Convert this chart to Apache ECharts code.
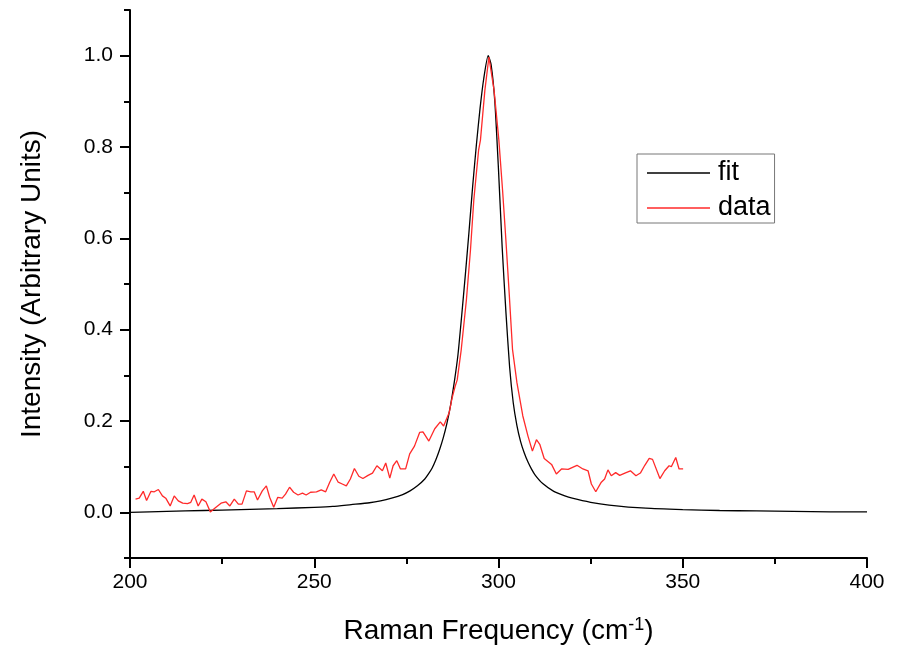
<!DOCTYPE html>
<html>
<head>
<meta charset="utf-8">
<script src="https://cdn.jsdelivr.net/npm/echarts@6/dist/echarts.min.js"></script>
<style>
  html, body { margin: 0; padding: 0; background: #fff; }
  #chart { width: 902px; height: 650px; }
</style>
</head>
<body>
<div id="chart"></div>
<script>
// fit curve
var fitX = [200, 210, 220, 230, 240, 250, 255, 260, 265, 268, 271, 274, 276, 278, 280, 281, 282, 283, 284, 285, 286, 287, 288, 289,
            290, 291, 292, 293, 294, 295, 296, 297.2, 298, 299, 300, 301, 302, 303, 304, 305, 306, 307, 308, 309, 310,
            312, 315, 318, 320, 325, 330, 340, 350, 360, 370, 380, 390, 400];
var fitY = [0.000, 0.002, 0.004, 0.006, 0.008, 0.011, 0.013, 0.017, 0.021, 0.025, 0.031, 0.039, 0.047, 0.058, 0.073, 0.084, 0.097, 0.115, 0.137, 0.163, 0.195, 0.235, 0.285, 0.345,
            0.430, 0.520, 0.615, 0.715, 0.805, 0.885, 0.950, 1.000, 0.980, 0.900, 0.750, 0.580, 0.440, 0.320, 0.240, 0.190, 0.155, 0.130, 0.110, 0.094, 0.081,
            0.063, 0.046, 0.036, 0.031, 0.022, 0.016, 0.009, 0.006, 0.004, 0.003, 0.002, 0.001, 0.001];

// measured data
var dataX = [201.5, 202.5, 203.6, 204.5, 205.7, 206.6, 207.7, 208.8, 209.7, 210.9, 212.0, 213.1, 214.3, 215.6, 216.5, 217.4, 218.5, 219.5, 220.6, 221.8,
             223.0, 224.7, 226.0, 227.1, 228.3, 229.4, 230.4, 231.6, 232.8, 233.7, 234.6, 235.9, 237.0, 237.9, 239.0, 240.1, 241.3, 242.2, 243.3, 244.4,
             245.6, 246.8, 247.8, 249.0, 250.6, 251.9, 253.1, 254.2, 255.3, 256.5, 257.6, 258.7, 259.8, 260.9, 262.1, 263.2, 264.6, 265.8, 267.0, 268.5,
             269.4, 270.5, 271.4, 272.4, 273.4, 274.8, 275.9, 277.2, 278.6, 279.5, 281.1, 282.7, 284.2, 285.1, 286.6, 287.4, 288.2, 288.8, 289.9, 291.3,
             292.4, 293.3, 294.6, 295.1, 296.3, 297.4, 298.8, 300.1, 301.1, 302.0, 302.9, 303.8, 305.0, 306.6, 308.0, 309.2, 310.3, 311.2, 312.4, 314.4,
             315.7, 317.1, 318.9, 321.3, 322.9, 324.3, 325.2, 326.4, 327.9, 328.8, 329.7, 330.6, 331.8, 332.9, 334.3, 335.8, 337.3, 338.5, 339.7, 340.9,
             341.8, 343.8, 345.1, 346.3, 346.9, 348.1, 349.0, 350.1];
var dataY = [0.029, 0.031, 0.046, 0.026, 0.046, 0.045, 0.050, 0.036, 0.031, 0.014, 0.036, 0.025, 0.020, 0.019, 0.022, 0.038, 0.014, 0.029, 0.023, 0.001,
             0.009, 0.020, 0.023, 0.014, 0.029, 0.018, 0.018, 0.047, 0.045, 0.045, 0.027, 0.047, 0.058, 0.033, 0.011, 0.033, 0.031, 0.040, 0.055, 0.044,
             0.038, 0.042, 0.038, 0.044, 0.045, 0.049, 0.045, 0.066, 0.084, 0.066, 0.062, 0.058, 0.073, 0.096, 0.079, 0.074, 0.081, 0.086, 0.102, 0.091,
             0.108, 0.075, 0.102, 0.113, 0.095, 0.095, 0.128, 0.145, 0.175, 0.176, 0.156, 0.183, 0.198, 0.189, 0.218, 0.250, 0.275, 0.290, 0.357, 0.466,
             0.575, 0.684, 0.793, 0.815, 0.924, 0.997, 0.924, 0.815, 0.706, 0.597, 0.480, 0.357, 0.284, 0.211, 0.167, 0.134, 0.159, 0.149, 0.118, 0.105,
             0.084, 0.095, 0.094, 0.103, 0.095, 0.091, 0.062, 0.045, 0.066, 0.073, 0.093, 0.080, 0.087, 0.081, 0.086, 0.091, 0.080, 0.086, 0.103, 0.118,
             0.116, 0.074, 0.091, 0.102, 0.100, 0.120, 0.095, 0.095];

var yMajorTicks = [0, 0.2, 0.4, 0.6, 0.8, 1.0];
var yMinorTicks = [-0.1, 0.1, 0.3, 0.5, 0.7, 0.9, 1.1];

function ToPairs(aX, aY) {
    var aOut = [];
    for (var i = 0; i < aX.length; i++) {
        aOut.push([aX[i], aY[i]]);
    }
    return aOut;
}

var sFont = '"Liberation Sans", Arial, sans-serif';

var jOption = {
    animation: false,
    backgroundColor: '#fff',
    grid: {left: 130, right: 35, top: 10, bottom: 91},
    legend: {
        data: ['fit', 'data'],
        orient: 'vertical',
        left: 637,
        top: 154,
        padding: [4, 4, 0, 10],
        itemGap: 5,
        icon: 'rect',
        itemWidth: 63,
        itemHeight: 1.3,
        borderColor: '#777',
        borderWidth: 1,
        textStyle: {fontFamily: sFont, fontSize: 27, lineHeight: 30, color: '#000', padding: [0, 0, 0, 3]}
    },
    xAxis: {
        type: 'value',
        min: 200,
        max: 400,
        interval: 50,
        name: 'Raman Frequency (cm{sup|-1})',
        nameLocation: 'middle',
        nameGap: 58,
        nameTextStyle: {
            fontFamily: sFont, fontSize: 28, color: '#000',
            rich: {sup: {fontFamily: sFont, fontSize: 18, color: '#000', verticalAlign: 'top', padding: [0, 0, 12, 0]}}
        },
        axisLine: {show: true, onZero: false, lineStyle: {color: '#000', width: 2}},
        axisTick: {show: true, inside: false, length: 10, lineStyle: {color: '#000', width: 2}},
        minorTick: {show: true, splitNumber: 2, length: 6, lineStyle: {color: '#000', width: 2}},
        axisLabel: {fontFamily: sFont, fontSize: 21, color: '#000', margin: 14},
        splitLine: {show: false}
    },
    yAxis: [
        {
            type: 'value',
            min: -0.1,
            max: 1.1,
            name: 'Intensity (Arbitrary Units)',
            nameLocation: 'middle',
            nameRotate: 90,
            nameGap: 84,
            nameTextStyle: {fontFamily: sFont, fontSize: 28, color: '#000'},
            axisLine: {show: true, onZero: false, lineStyle: {color: '#000', width: 2}},
            axisTick: {show: true, inside: false, length: 10, customValues: yMajorTicks, lineStyle: {color: '#000', width: 2}},
            axisLabel: {
                fontFamily: sFont, fontSize: 21, color: '#000', margin: 17,
                customValues: yMajorTicks,
                formatter: function (v) { return v.toFixed(1); }
            },
            splitLine: {show: false}
        },
        {
            // minor ticks only
            type: 'value',
            min: -0.1,
            max: 1.1,
            position: 'left',
            axisLine: {show: false},
            axisTick: {show: true, inside: false, length: 6, customValues: yMinorTicks, lineStyle: {color: '#000', width: 2}},
            axisLabel: {show: false},
            splitLine: {show: false}
        }
    ],
    series: [
        {
            name: 'fit',
            type: 'line',
            symbol: 'none',
            smooth: 0.2,
            color: '#000',
            lineStyle: {color: '#000', width: 1.3},
            data: ToPairs(fitX, fitY)
        },
        {
            name: 'data',
            type: 'line',
            symbol: 'none',
            color: '#ff2a2a',
            lineStyle: {color: '#ff2a2a', width: 1.3},
            data: ToPairs(dataX, dataY)
        }
    ]
};

var myChart = echarts.init(document.getElementById('chart'));
myChart.setOption(jOption);
</script>
</body>
</html>
